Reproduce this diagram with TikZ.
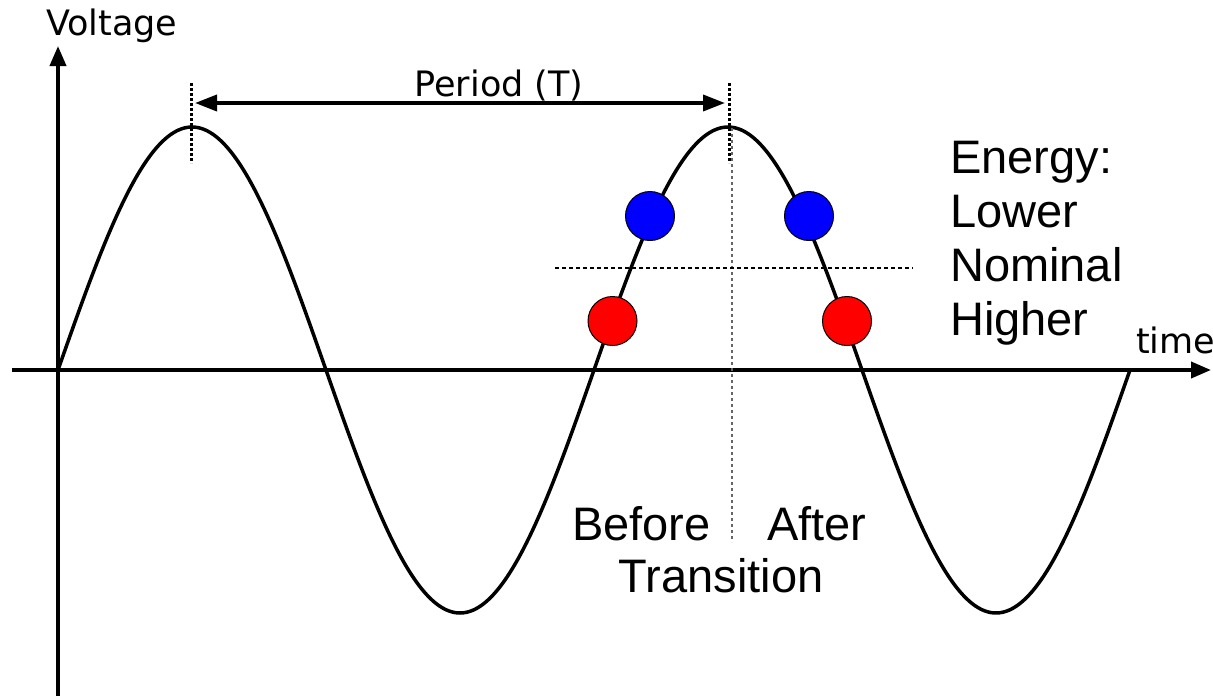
\documentclass[tikz,border=0pt]{standalone}
\usepackage{fontspec}
\setmainfont{Liberation Sans}
\newfontfamily\dejavu{DejaVu Sans}
\usetikzlibrary{arrows.meta}
\begin{document}
\begin{tikzpicture}[x=1pt,y=-1pt,
  axis/.style={line width=3.8pt, -{Triangle[length=20pt,width=16pt]}},
  curve/.style={line width=3.5pt, line join=round, line cap=round},
  tickline/.style={line width=3pt, dash pattern=on 2.5pt off 2.5pt},
  guide/.style={line width=1.6pt, black!60, dash pattern=on 3pt off 3pt},
  level/.style={line width=1.3pt, dash pattern=on 4pt off 3pt},
  dot/.style={circle, draw=black, line width=1pt, minimum size=49pt, inner sep=0pt},
  small/.style={font=\dejavu\fontsize{35}{40}\selectfont, inner sep=0pt},
  big/.style={font=\fontsize{47}{54}\selectfont, inner sep=0pt}]
\useasboundingbox (0,0) rectangle (1213,696);
% axes
\coordinate (ybot) at (58,696);
\coordinate (ytop) at (58,46);
\coordinate (xl) at (12,370);
\coordinate (xr) at (1211,370);
\draw[axis] (ybot) -- (ytop);
\draw[axis] (xl) -- (xr);
% sine wave
\draw[curve] plot[domain=0:2, samples=241, smooth] ({58+536*\x},{370-243*sin(360*\x)});
% guides
\coordinate (gtop) at (732,128);
\coordinate (gbot) at (732,542);
\draw[guide] (gtop) -- (gbot);
\coordinate (hl) at (555,268);
\coordinate (hr) at (913,268);
\draw[level] (hl) -- (hr);
% period ticks and arrow
\coordinate (t1a) at (191,83);
\coordinate (t1b) at (191,163);
\coordinate (t2a) at (729,83);
\coordinate (t2b) at (729,163);
\draw[tickline] (t1a) -- (t1b);
\draw[tickline] (t2a) -- (t2b);
\coordinate (pl) at (191,103);
\coordinate (pr) at (729,103);
\draw[line width=3.6pt, {Triangle[length=22pt,width=16pt]}-{Triangle[length=22pt,width=16pt]}, shorten <=4pt, shorten >=4pt] (pl) -- (pr);
% dots
\node[dot, fill=blue] (b1) at (650,216) {};
\node[dot, fill=blue] (b2) at (809,216) {};
\node[dot, fill=red] (r1) at (612.5,321) {};
\node[dot, fill=red] (r2) at (847,321) {};
% labels
\node[small, anchor=base west] (volt) at (46,35) {Voltage};
\node[small, anchor=base] (period) at (499,96) {Period (T)};
\node[small, anchor=base west] (time) at (1136,353) {time};
\node[big, anchor=base west] (en) at (950,173) {Energy:};
\node[big, anchor=base west] (lo) at (950,227) {Lower};
\node[big, anchor=base west] (no) at (950,281) {Nominal};
\node[big, anchor=base west] (hi) at (950,335) {Higher};
\node[big, anchor=base west] (bef) at (572,540) {Before};
\node[big, anchor=base west] (aft) at (767,540) {After};
\node[big, anchor=base] (tra) at (721,592) {Transition};
\end{tikzpicture}
\end{document}
